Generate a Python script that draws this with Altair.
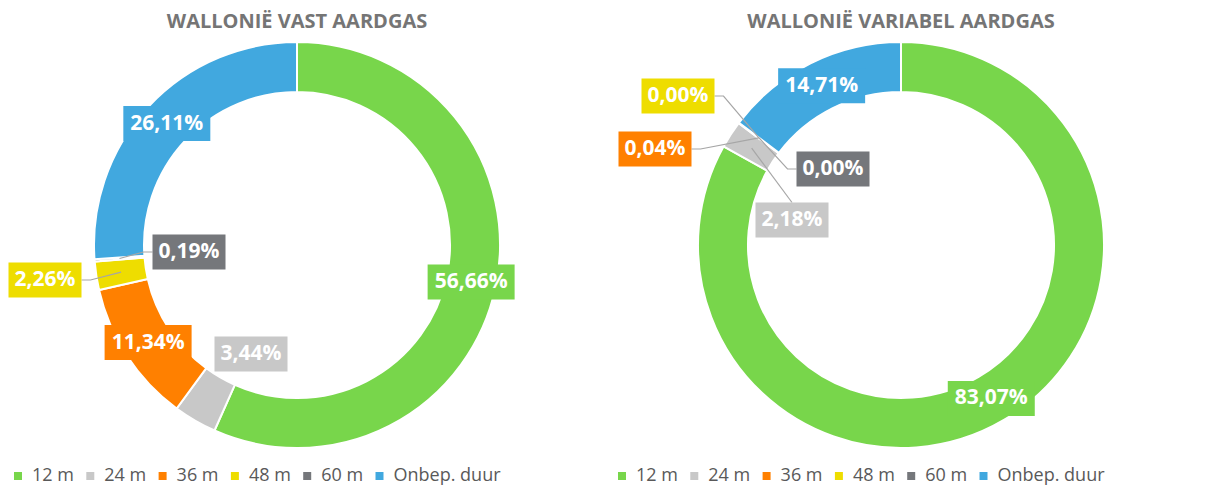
import math
import altair as alt
import pandas as pd

# ---------------- data ----------------
categories = ["12 m", "24 m", "36 m", "48 m", "60 m", "Onbep. duur"]
vast_values = [56.66, 3.44, 11.34, 2.26, 0.19, 26.11]
variabel_values = [83.07, 2.18, 0.04, 0.00, 0.00, 14.71]
titles = ["WALLONIË VAST AARDGAS", "WALLONIË VARIABEL AARDGAS"]
colors = ["#78D64B", "#C8C8C8", "#FF8000", "#EEDD00", "#75777B", "#41A8DF"]

# ---------------- layout (pixels) ----------------
W, H = 576, 474
R_OUT, R_IN = 203, 153
R_LABEL = 178
TITLE_BASELINE = 20      # px below the top of the panel
FONT = "Open Sans"

# callout boxes that were moved away from the ring (box centre relative to donut centre)
# and the side of the box where the leader line attaches
vast_layout = {
    "24 m": (-46, 109, None),
    "48 m": (-252, 35, "right"),
    "60 m": (-108, 7, "left"),
}
variabel_layout = {
    "24 m": (-109, -25, "top"),
    "36 m": (-246, -96, "right"),
    "48 m": (-223, -149, "right"),
    "60 m": (-68, -76, "left"),
}

color_scale = alt.Scale(domain=categories, range=colors)
xs = alt.Scale(domain=[-W / 2, W / 2], nice=False, zero=False)
ys = alt.Scale(domain=[-H / 2, H / 2], nice=False, zero=False, reverse=True)


def fmt(v):
    return f"{v:.2f}".replace(".", ",") + "%"


def build(values, title, layout):
    total = sum(values)
    arc_df = pd.DataFrame({"category": categories, "value": values,
                           "order": list(range(len(values)))})
    lab_rows, lead_rows = [], []
    cum = 0.0
    for cat, v in zip(categories, values):
        mid = 2 * math.pi * (cum + v / 2) / total
        cum += v
        px, py = R_LABEL * math.sin(mid), -R_LABEL * math.cos(mid)
        text = fmt(v)
        bw, bh = 14 * len(text) + 3, 35
        side = None
        if cat in layout:
            cx, cy, side = layout[cat]
        else:
            cx, cy = px, py
        lab_rows.append({"category": cat, "text": text, "cx": cx, "cy": cy,
                         "x0": cx - bw / 2, "x1": cx + bw / 2,
                         "y0": cy - bh / 2, "y1": cy + bh / 2})
        if side is not None:
            if side == "right":
                ax, ay = cx + bw / 2, cy
                ex, ey = ax + 9, ay
            elif side == "left":
                ax, ay = cx - bw / 2, cy
                ex, ey = ax - 9, ay
            else:
                ax, ay = cx, cy - bh / 2
                ex, ey = ax, ay
            for i, (x, y) in enumerate([(ax, ay), (ex, ey), (px, py)]):
                lead_rows.append({"category": cat, "seq": i, "lx": x, "ly": y})
    lab_df = pd.DataFrame(lab_rows)
    lead_df = pd.DataFrame(lead_rows)
    title_df = pd.DataFrame({"title": [title], "tx": [0.0],
                             "ty": [-H / 2 + TITLE_BASELINE]})

    arc = alt.Chart(arc_df).mark_arc(
        innerRadius=R_IN, outerRadius=R_OUT, stroke="white", strokeWidth=2
    ).encode(
        theta=alt.Theta("value:Q", stack=True),
        color=alt.Color("category:N", scale=color_scale, sort=categories,
                        legend=alt.Legend(
                            orient="none", legendX=0, legendY=459,
                            direction="horizontal", title=None, padding=0,
                            symbolType="square", symbolSize=64,
                            symbolStrokeWidth=0, symbolOpacity=1,
                            labelFont=FONT, labelFontSize=18,
                            labelColor="#595959", labelOffset=5,
                            columnPadding=7.3)),
        order=alt.Order("order:Q"),
    )
    leaders = alt.Chart(lead_df).mark_line(color="#A6A6A6", strokeWidth=1.2).encode(
        x=alt.X("lx:Q", scale=xs, axis=None),
        y=alt.Y("ly:Q", scale=ys, axis=None),
        detail="category:N",
        order="seq:Q",
    )
    boxes = alt.Chart(lab_df).mark_rect().encode(
        x=alt.X("x0:Q", scale=xs, axis=None),
        x2="x1:Q",
        y=alt.Y("y0:Q", scale=ys, axis=None),
        y2="y1:Q",
        color=alt.Color("category:N", scale=color_scale, sort=categories),
    )
    texts = alt.Chart(lab_df).mark_text(
        font=FONT, fontSize=21, fontWeight="bold", color="white"
    ).encode(
        x=alt.X("cx:Q", scale=xs, axis=None),
        y=alt.Y("cy:Q", scale=ys, axis=None),
        text="text:N",
    )
    heading = alt.Chart(title_df).mark_text(
        font=FONT, fontSize=20, fontWeight="bold", color="#757575",
        baseline="alphabetic", align="center"
    ).encode(
        x=alt.X("tx:Q", scale=xs, axis=None),
        y=alt.Y("ty:Q", scale=ys, axis=None),
        text="title:N",
    )
    return alt.layer(arc, leaders, boxes, texts, heading).properties(width=W, height=H)


left = build(vast_values, titles[0], vast_layout)
right = build(variabel_values, titles[1], variabel_layout)

chart = alt.hconcat(left, right, spacing=28).resolve_scale(
    color="independent", x="independent", y="independent"
).properties(padding=0).configure_view(stroke=None)

chart.save("out.html", embed_options={"renderer": "svg", "actions": False})
